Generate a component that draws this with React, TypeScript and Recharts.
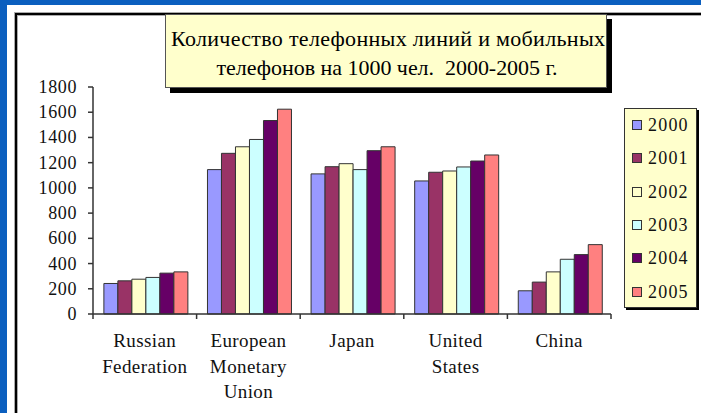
import React from 'react';
import { BarChart, Bar, XAxis, YAxis } from 'recharts';

const categories = ['Russian Federation', 'European Monetary Union', 'Japan', 'United States', 'China'];
const years = ['2000', '2001', '2002', '2003', '2004', '2005'];
const s2000 = [242, 1145, 1111, 1055, 184];
const s2001 = [263, 1274, 1168, 1124, 253];
const s2002 = [276, 1326, 1192, 1134, 334];
const s2003 = [290, 1384, 1145, 1166, 434];
const s2004 = [324, 1534, 1295, 1213, 471];
const s2005 = [334, 1624, 1326, 1261, 550];
const yTicks = [0, 200, 400, 600, 800, 1000, 1200, 1400, 1600, 1800];
const colors = ['#9999FF', '#993366', '#FFFFCC', '#CCFFFF', '#660066', '#FF8080'];
const titleLines = ['Количество телефонных линий и мобильных', 'телефонов на 1000 чел.  2000-2005 г.'];

const seriesValues = [s2000, s2001, s2002, s2003, s2004, s2005];
const data = categories.map((c, i) => {
  const row: Record<string, string | number> = { name: c };
  years.forEach((y, k) => {
    row[y] = seriesValues[k][i];
  });
  return row;
});

const W = 701;
const H = 413;
const Y_AXIS_W = 93;
const X_AXIS_H = 99;
const M_TOP = 87;
const M_RIGHT = 90;
const PLOT_W = W - Y_AXIS_W - M_RIGHT;
const BAND = PLOT_W / categories.length;
const FONT = "'Liberation Serif', 'DejaVu Serif', serif";
const BLUE = '#0B5FBF';

const XTick = (props: any) => {
  const { x, y, payload, index } = props;
  const words = String(payload.value).split(' ');
  return (
    <g>
      <line x1={x - BAND / 2} x2={x - BAND / 2} y1={y} y2={y + 5} stroke="#333" strokeWidth={1.5} />
      {index === categories.length - 1 && (
        <line x1={x + BAND / 2} x2={x + BAND / 2} y1={y} y2={y + 5} stroke="#333" strokeWidth={1.5} />
      )}
      {words.map((w, i) => (
        <text
          key={i}
          x={x}
          y={y + 33 + i * 25.7}
          textAnchor="middle"
          style={{ fontFamily: FONT, fontSize: 19, letterSpacing: 0.4 }}
          fill="#111"
        >
          {w}
        </text>
      ))}
    </g>
  );
};

const YTick = (props: any) => {
  const { x, y, payload } = props;
  return (
    <g>
      <line x1={x - 5} x2={x} y1={y} y2={y} stroke="#333" strokeWidth={1.5} />
      <text x={x - 16} y={y + 6} textAnchor="end" style={{ fontFamily: FONT, fontSize: 18, letterSpacing: 0.6 }} fill="#111">
        {payload.value}
      </text>
    </g>
  );
};

export default function App() {
  return (
    <div
      style={{
        position: 'absolute',
        left: 0,
        top: 0,
        width: W,
        height: H,
        background: '#fff',
        overflow: 'hidden',
        fontFamily: FONT,
      }}
    >
      <div style={{ position: 'absolute', left: 0, top: 0, width: W, height: 5, background: BLUE }} />
      <div style={{ position: 'absolute', left: 0, top: 0, width: 7, height: H, background: BLUE }} />
      <div
        style={{
          position: 'absolute',
          left: 15,
          top: 13,
          width: W,
          height: H,
          borderLeft: '2px solid #000',
          borderTop: '2px solid #000',
          boxShadow: '-1px -1px 0 #aaa, inset 1px 1px 0 #aaa',
        }}
      />
      <div style={{ position: 'absolute', left: 0, top: 0 }}>
        <BarChart
          width={W}
          height={H}
          data={data}
          margin={{ top: M_TOP, right: M_RIGHT, bottom: 0, left: 0 }}
          barCategoryGap="10.5%"
          barGap={0}
        >
          <YAxis
            width={Y_AXIS_W}
            domain={[0, 1800]}
            ticks={yTicks}
            interval={0}
            tickSize={0}
            tickMargin={0}
            tickLine={false}
            axisLine={{ stroke: '#333', strokeWidth: 1.5 }}
            tick={<YTick />}
          />
          <XAxis
            dataKey="name"
            height={X_AXIS_H}
            interval={0}
            tickSize={0}
            tickMargin={0}
            tickLine={false}
            axisLine={{ stroke: '#333', strokeWidth: 1.5 }}
            tick={<XTick />}
          />
          {years.map((y, k) => (
            <Bar key={y} dataKey={y} fill={colors[k]} stroke="#333" strokeWidth={1} isAnimationActive={false} />
          ))}
        </BarChart>
      </div>
      <div
        style={{
          position: 'absolute',
          left: 165,
          top: 14,
          width: 440,
          height: 72,
          background: '#FFFFCC',
          border: '1px solid #555',
          boxShadow: '5px 5px 0 #000',
        }}
      >
        <svg width={440} height={72} style={{ position: 'absolute', left: 0, top: 0 }}>
          <text
            x={222}
            y={31}
            textAnchor="middle"
            textLength={434}
            lengthAdjust="spacing"
            fill="#000"
            style={{ whiteSpace: 'pre', fontFamily: FONT, fontSize: 22 }}
          >
            {titleLines[0]}
          </text>
          <text
            x={221}
            y={59.5}
            textAnchor="middle"
            textLength={341}
            lengthAdjust="spacing"
            fill="#000"
            style={{ whiteSpace: 'pre', fontFamily: FONT, fontSize: 22 }}
          >
            {titleLines[1]}
          </text>
        </svg>
      </div>
      <div
        style={{
          position: 'absolute',
          left: 624,
          top: 108,
          width: 71,
          height: 198,
          background: '#FFFFCC',
          border: '1px solid #333',
          boxShadow: '2px 2px 0 #000',
        }}
      >
        {years.map((y, k) => {
          const yc = 125 + k * 33.33 - 109;
          return (
            <React.Fragment key={y}>
              <div
                style={{
                  position: 'absolute',
                  left: 7,
                  top: yc - 5,
                  width: 8,
                  height: 8,
                  background: colors[k],
                  border: '1px solid #333',
                }}
              />
              <div
                style={{
                  position: 'absolute',
                  left: 23,
                  top: yc - 10,
                  fontSize: 18,
                  lineHeight: '20px',
                  letterSpacing: 1.2,
                  color: '#111',
                  whiteSpace: 'nowrap',
                }}
              >
                {y}
              </div>
            </React.Fragment>
          );
        })}
      </div>
    </div>
  );
}
